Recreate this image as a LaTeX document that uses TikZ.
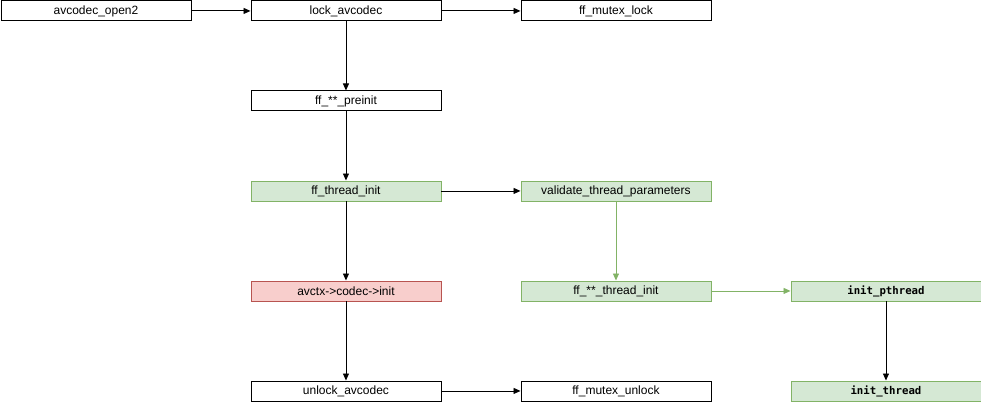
\documentclass[tikz,border=0pt]{standalone}
\usepackage{fontspec}
\setmainfont{Liberation Sans}
\newfontfamily\codefont{DejaVu Sans Mono}
\usetikzlibrary{arrows.meta}
\definecolor{gfill}{HTML}{D5E8D4}
\definecolor{gline}{HTML}{82B366}
\definecolor{rfill}{HTML}{F8CECC}
\definecolor{rline}{HTML}{B85450}
\begin{document}
\begin{tikzpicture}[x=1pt,y=-1pt,
  box/.style={draw=black,fill=white,line width=0.9pt,minimum width=190pt,minimum height=20pt,inner sep=0pt,font=\fontsize{12}{14}\selectfont,anchor=north west},
  gbox/.style={box,draw=gline,fill=gfill},
  rbox/.style={box,draw=rline,fill=rfill},
  code/.style={font=\codefont\bfseries\fontsize{10.7}{13}\selectfont},
  arr/.style={-{Triangle[length=7pt,width=6pt]},line width=0.9pt},
  garr/.style={arr,draw=gline,color=gline}]
\useasboundingbox (0,0) rectangle (981,401);
\node[box] (open) at (0.5,0.5) {avcodec\_open2};
\node[box] (lock) at (250.5,0.5) {lock\_avcodec};
\node[box] (mlock) at (520.5,0.5) {ff\_mutex\_lock};
\node[box] (pre) at (250.5,90.5) {ff\_**\_preinit};
\node[gbox] (tinit) at (250.5,180.5) {ff\_thread\_init};
\node[gbox] (valid) at (520.5,180.5) {validate\_thread\_parameters};
\node[rbox] (cinit) at (250.5,280.5) {avctx->codec->init};
\node[gbox] (sinit) at (520.5,280.5) {ff\_**\_thread\_init};
\node[gbox,code] (pth) at (790.5,280.5) {init\_pthread};
\node[box] (unlock) at (250.5,380.5) {unlock\_avcodec};
\node[box] (munlock) at (520.5,380.5) {ff\_mutex\_unlock};
\node[gbox,code] (ith) at (790.5,380.5) {init\_thread};
\draw[arr] (open) -- (lock);
\draw[arr] (lock) -- (mlock);
\draw[arr] (lock) -- (pre);
\draw[arr] (pre) -- (tinit);
\draw[arr] (tinit) -- (valid);
\draw[arr] (tinit) -- (cinit);
\draw[garr] (valid) -- (sinit);
\draw[garr] (sinit) -- (pth);
\draw[arr] (pth) -- (ith);
\draw[arr] (cinit) -- (unlock);
\draw[arr] (unlock) -- (munlock);
\end{tikzpicture}
\end{document}
